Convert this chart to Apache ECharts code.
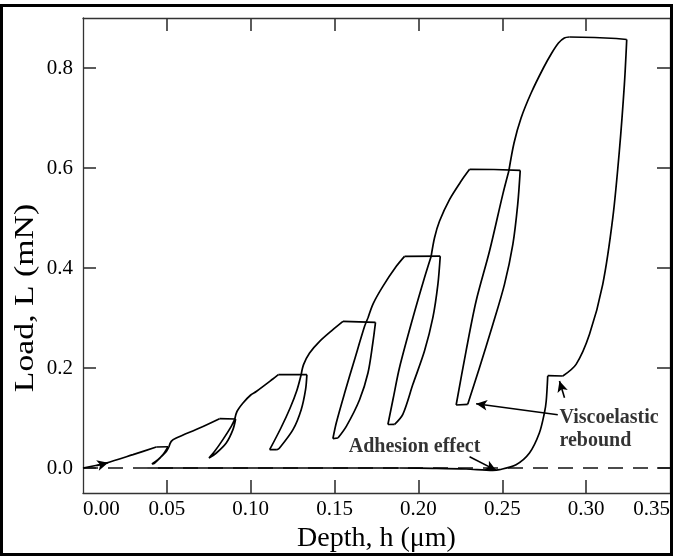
<!DOCTYPE html>
<html><head><meta charset="utf-8">
<script src="https://cdn.jsdelivr.net/npm/echarts@6/dist/echarts.min.js"></script>
<style>html,body{margin:0;padding:0;background:#fff}#c{width:673px;height:558px}</style>
</head><body><div id="c"></div>
<script>
// Tick values
const xTickValues = [0, 0.05, 0.10, 0.15, 0.20, 0.25, 0.30, 0.35];
const xInnerTicks = [0.05, 0.10, 0.15, 0.20, 0.25, 0.30];
const yTickValues = [0, 0.2, 0.4, 0.6, 0.8];

// Depth (um), Load (mN) pairs, traced segment by segment.
// Loading curves (smooth)
const load1 = [[0,0],[0.0139,0.010],[0.0298,0.0267],[0.0437,0.042]];
const load2 = [[0.0512,0.042],[0.0526,0.0533],[0.0556,0.060],[0.0695,0.080],[0.0814,0.0987]];
const load3 = [[0.0904,0.0967],[0.0918,0.113],[0.0954,0.130],[0.1000,0.146],[0.1033,0.153],[0.1132,0.178],[0.1165,0.1867]];
const load4 = [[0.1301,0.187],[0.1315,0.2067],[0.1351,0.230],[0.1411,0.2533],[0.1490,0.2767],[0.1550,0.2933]];
const load5 = [[0.1699,0.300],[0.1731,0.3293],[0.1788,0.3633],[0.1868,0.4033],[0.1917,0.4233]];
const load6 = [[0.2076,0.4236],[0.2096,0.4606],[0.2126,0.494],[0.2186,0.5373],[0.2255,0.574],[0.2305,0.5973]];
const load7 = [[0.2539,0.594],[0.2570,0.650],[0.2612,0.700],[0.2672,0.750],[0.2745,0.800],[0.2795,0.830],[0.2835,0.850],[0.2870,0.860],[0.2900,0.862]];
// Holds (straight)
const hold1 = [[0.0437,0.042],[0.0507,0.0425]];
const hold2 = [[0.0814,0.0987],[0.0910,0.098]];
const hold3 = [[0.1165,0.1867],[0.1335,0.1867]];
const hold4 = [[0.1550,0.2933],[0.1744,0.2913]];
const hold5 = [[0.1917,0.4233],[0.2130,0.4236]];
const hold6 = [[0.2305,0.5973],[0.2450,0.597],[0.2607,0.5953]];
const hold7 = [[0.2900,0.862],[0.3050,0.861],[0.3180,0.859],[0.3242,0.857]];
// Unload / reload loops (smooth)
const loop1 = [[0.0507,0.0425],[0.0477,0.0267],[0.0427,0.010],[0.0411,0.008],[0.0447,0.0167],[0.0497,0.0333],[0.0512,0.042]];
const loop2 = [[0.0910,0.098],[0.0894,0.0767],[0.0854,0.050],[0.0795,0.030],[0.0751,0.020],[0.0785,0.0333],[0.0834,0.0567],[0.0884,0.0833],[0.0904,0.0967]];
const loop3 = [[0.1335,0.1867],[0.1327,0.1566],[0.1301,0.1166],[0.1252,0.0766],[0.1172,0.040],[0.1156,0.0366]];
const reload3 = [[0.1113,0.0366],[0.1180,0.080],[0.1235,0.120],[0.1275,0.155],[0.1301,0.187]];
const loop4 = [[0.1744,0.2913],[0.1728,0.250],[0.1699,0.190],[0.1649,0.1366],[0.1570,0.0833],[0.1520,0.060]];
const reload4 = [[0.1490,0.0586],[0.1510,0.090],[0.1560,0.150],[0.1619,0.2166],[0.1679,0.2833],[0.1699,0.300]];
const loop5 = [[0.2130,0.4236],[0.2116,0.3673],[0.2086,0.3006],[0.2036,0.2339],[0.1967,0.1673],[0.1907,0.1073],[0.1858,0.0873]];
const reload5 = [[0.1818,0.087],[0.1850,0.140],[0.1887,0.2006],[0.1967,0.3006],[0.2036,0.3806],[0.2076,0.4236]];
const loop6 = [[0.2607,0.5953],[0.2592,0.5273],[0.2563,0.4473],[0.2513,0.3673],[0.2444,0.2873],[0.2364,0.2006],[0.2294,0.1273]];
const reload6 = [[0.2225,0.126],[0.2284,0.2339],[0.2344,0.3339],[0.2424,0.4339],[0.2503,0.5473],[0.2539,0.594]];
const unload7 = [[0.3242,0.857],[0.3228,0.7673],[0.3198,0.634],[0.3159,0.5006],[0.3099,0.3673],[0.3020,0.2673],[0.2940,0.2073],[0.2861,0.184]];
const rebound = [[0.2861,0.184],[0.2771,0.1846]];
const retract = [[0.2771,0.1846],[0.2762,0.134],[0.2751,0.110],[0.2721,0.070],[0.2662,0.030],[0.2582,0.0066],[0.2483,-0.0034],[0.2443,-0.0047],[0.2284,-0.002],[0.2086,-0.0007],[0.1887,0]];
// Straight pieces (loop bottoms, final baseline)
const bottoms = [
  [[0.1156,0.0366],[0.1113,0.0366]],
  [[0.1520,0.060],[0.1490,0.0586]],
  [[0.1858,0.0873],[0.1818,0.087]],
  [[0.2294,0.1273],[0.2225,0.126]],
  [[0.1887,0],[0.0387,0]]
];
const baseline = [[0,0],[0.35,0]];

// Annotations
const adhesionText = {pos:[0.1977,0.0416], text:'Adhesion effect'};
const reboundText = {pos:[0.2841,0.0766], text:'Viscoelastic\nrebound'};
const arrows = [
  [[0.2305,0.0226],[0.2464,-0.0048]],
  [[0.2831,0.1066],[0.2344,0.1286]],
  [[0.2871,0.1406],[0.2841,0.174]],
  [[0.0080,0.0045],[0.0150,0.0105]]
];

const smoothParts = [load1,load2,load3,load4,load5,load6,load7,loop1,loop2,loop3,reload3,loop4,reload4,loop5,reload5,loop6,reload6,unload7,retract];
const straightParts = [hold1,hold2,hold3,hold4,hold5,hold6,hold7,rebound].concat(bottoms);

const FONT = 'Liberation Serif';
const axisCol = '#333';
const chart = echarts.init(document.getElementById('c'), null, {renderer:'canvas'});
const tickStyle = {color: axisCol, width: 1.6};
const lineSt = {color:'#000', width:1.7};
const series = [
  {type:'line', name:'baseline', data:baseline, showSymbol:false, symbol:'none',
   lineStyle:{color:'#111', width:1.4, type:[15,10]}, z:2}
];
smoothParts.forEach((d,i)=>series.push({type:'line', data:d, showSymbol:false, symbol:'none', smooth:0.3, lineStyle:lineSt, z:3}));
straightParts.forEach((d,i)=>series.push({type:'line', data:d, showSymbol:false, symbol:'none', lineStyle:lineSt, z:3}));
series.push({type:'line', data:[], showSymbol:false, symbol:'none',
   markLine:{silent:true, symbol:['none','arrow'], symbolSize:[8,11], animation:false,
     lineStyle:{color:'#000', width:1.6, type:'solid'}, label:{show:false},
     data: arrows.map(a=>[{coord:a[0]},{coord:a[1]}])}});
series.push({type:'scatter', symbolSize:0, silent:true, z:5,
   data:[{value:adhesionText.pos, label:{formatter:adhesionText.text, align:'center'}},
         {value:reboundText.pos, label:{formatter:reboundText.text, align:'left'}}],
   label:{show:true, position:'inside', verticalAlign:'middle', fontFamily:FONT, fontWeight:'bold', fontSize:20, lineHeight:23, color:'#000'}});

chart.setOption({
  animation: false,
  backgroundColor: '#fff',
  grid: {left: 83, right: 2, top: 18, bottom: 65, containLabel: false},
  xAxis: [
    {type:'value', min:0, max:0.35, position:'bottom',
     axisLine:{show:true, onZero:false, lineStyle:{color:axisCol, width:1.3}},
     axisTick:{show:true, inside:true, length:13, customValues:xInnerTicks, lineStyle:tickStyle},
     axisLabel:{show:true, customValues:xTickValues, formatter:v=>v.toFixed(2), fontFamily:FONT, fontSize:21, color:'#000', margin:6,
       alignMinLabel:'left', alignMaxLabel:'right'},
     splitLine:{show:false},
     name:'Depth, h (\u03bcm)', nameLocation:'middle', nameGap:29,
     nameTextStyle:{fontFamily:FONT, fontSize:28, color:'#000'}},
    {type:'value', min:0, max:0.35, position:'top',
     axisLine:{show:true, onZero:false, lineStyle:{color:axisCol, width:1.3}},
     axisTick:{show:true, inside:true, length:13, customValues:xInnerTicks, lineStyle:tickStyle},
     axisLabel:{show:false}, splitLine:{show:false}}
  ],
  yAxis: [
    {type:'value', min:-0.05, max:0.9, position:'left',
     axisLine:{show:true, onZero:false, lineStyle:{color:axisCol, width:1.3}},
     axisTick:{show:true, inside:true, length:13, customValues:yTickValues, lineStyle:tickStyle},
     axisLabel:{show:true, customValues:yTickValues, formatter:v=>v.toFixed(1), fontFamily:FONT, fontSize:21, color:'#000', margin:10},
     splitLine:{show:false}},
    {type:'value', min:-0.05, max:0.9, position:'right',
     axisLine:{show:true, onZero:false, lineStyle:{color:axisCol, width:1.3}},
     axisTick:{show:true, inside:true, length:13, customValues:yTickValues, lineStyle:tickStyle},
     axisLabel:{show:false}, splitLine:{show:false}}
  ],
  series: series,
  graphic: [
    {type:'rect', shape:{x:1.5, y:5.5, width:670, height:549}, style:{fill:'none', stroke:'#000', lineWidth:3}, z:100, silent:true},
    {type:'text', x:26, y:298, rotation:Math.PI/2, scaleX:1.25, silent:true,
     style:{text:'Load, L (mN)', font:'27px "Liberation Serif"', fill:'#000', align:'center', verticalAlign:'middle'}}
  ]
});
</script></body></html>
